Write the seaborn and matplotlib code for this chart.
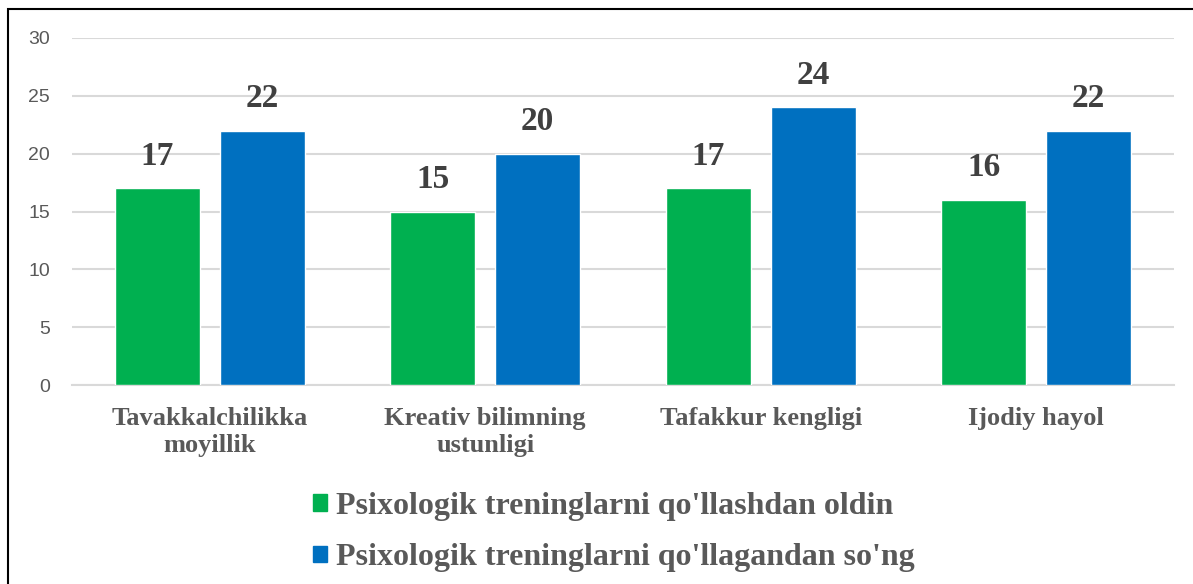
import matplotlib
matplotlib.use("Agg")
import matplotlib.pyplot as plt
from matplotlib.patches import Rectangle
import seaborn as sns
import pandas as pd

# data
categories = ["Tavakkalchilikka\nmoyillik", "Kreativ bilimning\nustunligi",
              "Tafakkur kengligi", "Ijodiy hayol"]
before = [17, 15, 17, 16]
after = [22, 20, 24, 22]
series = ["Psixologik treninglarni qo'llashdan oldin",
          "Psixologik treninglarni qo'llagandan so'ng"]
colors = ["#00B050", "#0070C0"]

df = pd.DataFrame({
    "cat": categories * 2,
    "val": before + after,
    "series": [series[0]] * 4 + [series[1]] * 4,
})

sns.set_style("white")
serif = ["Liberation Serif", "DejaVu Serif"]
sans = ["Liberation Sans", "DejaVu Sans"]

fig = plt.figure(figsize=(11.93, 5.84), dpi=100)
ax = fig.add_axes([72 / 1193, 1 - 385 / 584, 1102 / 1193, 347 / 584])

sns.barplot(data=df, x="cat", y="val", hue="series", palette=colors, saturation=1,
            width=0.762, gap=0.19, ax=ax, legend=False, zorder=3)

for c in ax.containers:
    ax.bar_label(c, padding=12, fontsize=24, fontweight="bold",
                 family=serif, color="#404040")

ax.set_ylim(0, 30)
ax.set_xlim(-0.5, 3.5)
ax.set_yticks(range(0, 31, 5))
ax.yaxis.grid(True, color="#D9D9D9", lw=1.5, zorder=0)
ax.set_axisbelow(True)
for s in ["top", "right", "left"]:
    ax.spines[s].set_visible(False)
ax.spines["bottom"].set_color("#D9D9D9")
ax.spines["bottom"].set_linewidth(1.5)
ax.set_xlabel("")
ax.set_ylabel("")
ax.tick_params(axis="both", length=0)
ax.tick_params(axis="y", pad=16)
ax.tick_params(axis="x", pad=16)
for t in ax.get_yticklabels():
    t.set_family(sans)
    t.set_fontsize(14)
    t.set_color("#595959")
for t in ax.get_xticklabels():
    t.set_family(serif)
    t.set_fontsize(19)
    t.set_fontweight("bold")
    t.set_color("#595959")
    t.set_linespacing(1.2)

handles = [Rectangle((0, 0), 1, 1, color=c) for c in colors]
leg = fig.legend(handles, series, loc="center", bbox_to_anchor=(614 / 1193, 1 - 532 / 584),
                 ncol=1, frameon=False, handlelength=0.42, handleheight=0.42,
                 handletextpad=0.3, labelspacing=0.7,
                 prop={"family": serif, "weight": "bold", "size": 23})
for t in leg.get_texts():
    t.set_color("#595959")

# outer border
fig.patches.append(Rectangle((8 / 1193, -0.2), 1.2, 0.2 + 1 - 9 / 584, transform=fig.transFigure,
                             fill=False, edgecolor="black", lw=1.5))

fig.savefig("out.png", dpi=100)
